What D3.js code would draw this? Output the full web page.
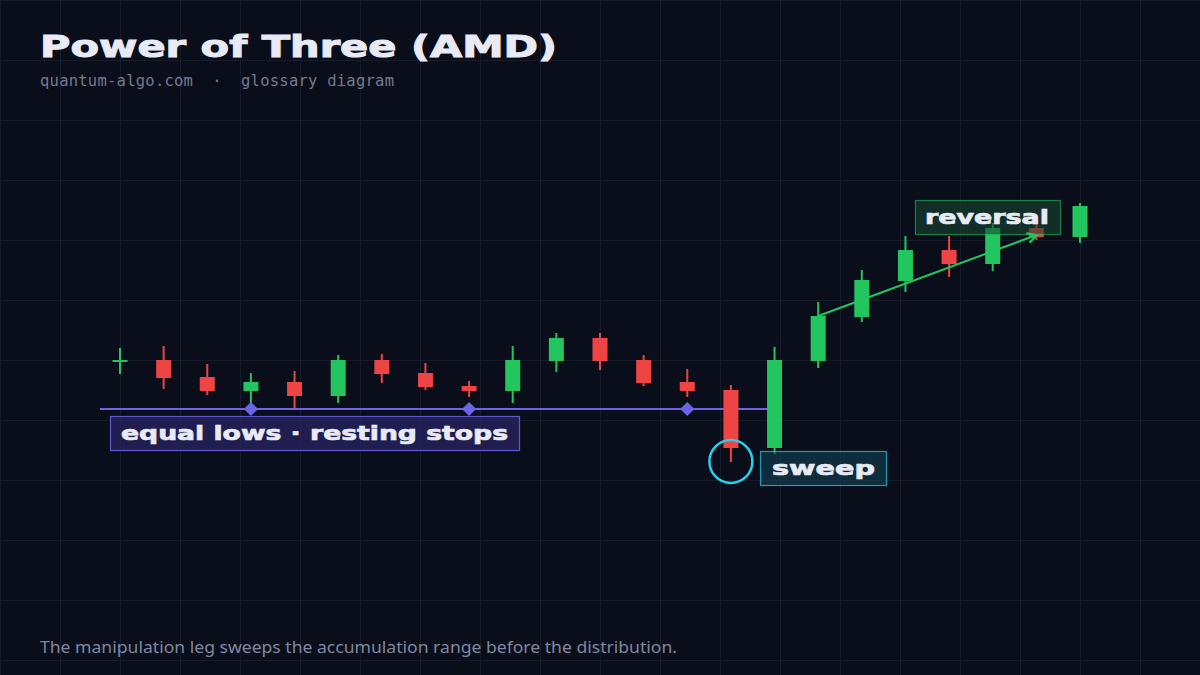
<!DOCTYPE html>
<html>
<head>
<meta charset="utf-8">
<script src="https://cdn.jsdelivr.net/npm/d3@7"></script>
<style>
  html, body { margin: 0; padding: 0; background: #0a0e1a; }
  svg { display: block; }
</style>
</head>
<body>
<div id="chart"></div>
<script>
// candle data (price units), left to right
const opens  = [111.9, 112.0, 110.3, 108.9, 109.8, 108.4, 112.0, 110.7, 109.4, 108.9, 111.9, 114.2, 112.0, 109.8, 109.0, 103.2, 111.9, 116.3, 119.9, 123.0, 121.6, 125.2, 124.3];
const highs  = [113.2, 113.4, 111.6, 110.7, 110.9, 112.5, 112.6, 111.7, 109.9, 113.4, 114.7, 114.7, 112.5, 111.1, 109.5, 113.3, 117.8, 121.0, 124.4, 124.4, 125.7, 125.7, 127.7];
const lows   = [110.6, 109.1, 108.5, 107.7, 107.2, 107.7, 109.7, 109.0, 108.3, 107.7, 110.8, 111.0, 109.4, 108.3, 101.8, 102.6, 111.2, 115.8, 118.8, 120.3, 120.9, 124.0, 123.7];
const closes = [112.0, 110.2, 108.9, 109.8, 108.4, 112.0, 110.6, 109.3, 108.9, 112.0, 114.2, 111.9, 109.7, 108.9, 103.2, 112.0, 116.4, 120.0, 123.0, 121.6, 125.2, 124.3, 127.4];

// annotations
const equalLowLevel = 107.1;
const equalLowIdx = [3, 8, 13];
const sweepIdx = 14;
const arrowFrom = { i: 16, p: 116.4 };
const arrowTo = { i: 21, p: 124.5 };

const W = 1200, H = 675;
const C = {
  bg: "#0a0e1a", grid: "#161b29", up: "#22c55e", down: "#ef4444",
  purple: "#6c63e8", cyan: "#22d3ee", text: "#e8eaf5", muted: "#737a90"
};
const heavy = "'DejaVu Sans', sans-serif";

const svg = d3.select("#chart").append("svg")
  .attr("width", W).attr("height", H)
  .attr("xmlns", "http://www.w3.org/2000/svg");

svg.append("rect").attr("width", W).attr("height", H).attr("fill", C.bg);

// background grid, 60px
const gridG = svg.append("g").attr("stroke", C.grid).attr("stroke-width", 1);
d3.range(0, W + 1, 60).forEach(gx => gridG.append("line")
  .attr("x1", gx + 0.5).attr("x2", gx + 0.5).attr("y1", 0).attr("y2", H));
d3.range(0, H + 1, 60).forEach(gy => gridG.append("line")
  .attr("x1", 0).attr("x2", W).attr("y1", gy + 0.5).attr("y2", gy + 0.5));

// scales
const idx = d3.range(opens.length);
const x = d3.scalePoint().domain(idx).range([120, 1080]);
const y = d3.scaleLinear().domain([100, 128]).range([480, 200]);
const bodyW = 15;

const candles = idx.map(i => ({ i, o: opens[i], h: highs[i], l: lows[i], c: closes[i] }));

// equal lows line
const eqY = y(equalLowLevel);
svg.append("line")
  .attr("x1", x(0) - 20).attr("x2", x(15) - 4)
  .attr("y1", eqY).attr("y2", eqY)
  .attr("stroke", C.purple).attr("stroke-width", 2);

// candles
const cg = svg.append("g");
candles.forEach(d => {
  const col = d.c >= d.o ? C.up : C.down;
  cg.append("line")
    .attr("x1", x(d.i)).attr("x2", x(d.i))
    .attr("y1", y(d.h)).attr("y2", y(d.l))
    .attr("stroke", col).attr("stroke-width", 2);
  const top = y(Math.max(d.o, d.c)), bot = y(Math.min(d.o, d.c));
  cg.append("rect")
    .attr("x", x(d.i) - bodyW / 2).attr("y", top)
    .attr("width", bodyW).attr("height", Math.max(2, bot - top))
    .attr("fill", col);
});

// diamonds on equal lows
equalLowIdx.forEach(i => {
  svg.append("rect")
    .attr("x", -5).attr("y", -5).attr("width", 10).attr("height", 10)
    .attr("transform", `translate(${x(i)},${eqY}) rotate(45)`)
    .attr("fill", C.purple);
});

// label helper: box + stretched heavy text
function label(bx, by, bw, bh, txt, tx, tw, fill, stroke) {
  svg.append("rect")
    .attr("x", bx + 0.5).attr("y", by + 0.5).attr("width", bw).attr("height", bh)
    .attr("fill", fill).attr("stroke", stroke).attr("stroke-width", 1.2);
  svg.append("text")
    .attr("x", tx).attr("y", by + bh / 2 + 7)
    .attr("textLength", tw).attr("lengthAdjust", "spacingAndGlyphs")
    .style("font-family", heavy).style("font-weight", 700).style("font-size", "20px")
    .attr("fill", C.text).attr("stroke", C.text).attr("stroke-width", 0.7)
    .text(txt);
}

label(110, 416, 409, 34, "equal lows · resting stops", 121, 387, "rgba(40,36,100,0.75)", "rgba(108,99,232,0.85)");

// sweep circle
svg.append("circle")
  .attr("cx", x(sweepIdx)).attr("cy", y(lows[sweepIdx]) - 0.5).attr("r", 21.5)
  .attr("fill", "none").attr("stroke", C.cyan).attr("stroke-width", 2.5);

label(760, 451, 126, 34, "sweep", 772, 103, "rgba(20,70,90,0.55)", "rgba(34,211,238,0.7)");

// reversal box (drawn before arrow)
label(915, 200, 145, 34, "reversal", 925, 124, "rgba(24,70,48,0.6)", "rgba(34,197,94,0.6)");

// arrow
svg.append("defs").append("marker")
  .attr("id", "ah").attr("viewBox", "0 0 12 12").attr("refX", 10).attr("refY", 6)
  .attr("markerWidth", 12).attr("markerHeight", 12).attr("markerUnits", "userSpaceOnUse")
  .attr("orient", "auto")
  .append("path").attr("d", "M1,1 L10,6 L1,11")
  .attr("fill", "none").attr("stroke", C.up).attr("stroke-width", 2.2);

svg.append("line")
  .attr("x1", x(arrowFrom.i)).attr("y1", y(arrowFrom.p))
  .attr("x2", x(arrowTo.i)).attr("y2", y(arrowTo.p))
  .attr("stroke", C.up).attr("stroke-width", 2)
  .attr("marker-end", "url(#ah)");

// titles
svg.append("text")
  .attr("x", 40).attr("y", 57)
  .attr("textLength", 517).attr("lengthAdjust", "spacingAndGlyphs")
  .style("font-family", heavy).style("font-weight", 700).style("font-size", "30px")
  .attr("fill", C.text).attr("stroke", C.text).attr("stroke-width", 1)
  .text("Power of Three (AMD)");

svg.append("text")
  .attr("x", 40).attr("y", 86)
  .attr("xml:space", "preserve").style("white-space", "pre")
  .style("font-family", "'DejaVu Sans Mono', monospace").style("font-size", "15.5px")
  .attr("fill", C.muted)
  .attr("textLength", 354)
  .text("quantum-algo.com  \u00b7  glossary diagram");

svg.append("text")
  .attr("x", 40).attr("y", 653)
  .style("font-family", "'Noto Sans', sans-serif").style("font-size", "17px")
  .attr("fill", "#8088a0")
  .attr("textLength", 637).attr("lengthAdjust", "spacingAndGlyphs")
  .text("The manipulation leg sweeps the accumulation range before the distribution.");
</script>
</body>
</html>
